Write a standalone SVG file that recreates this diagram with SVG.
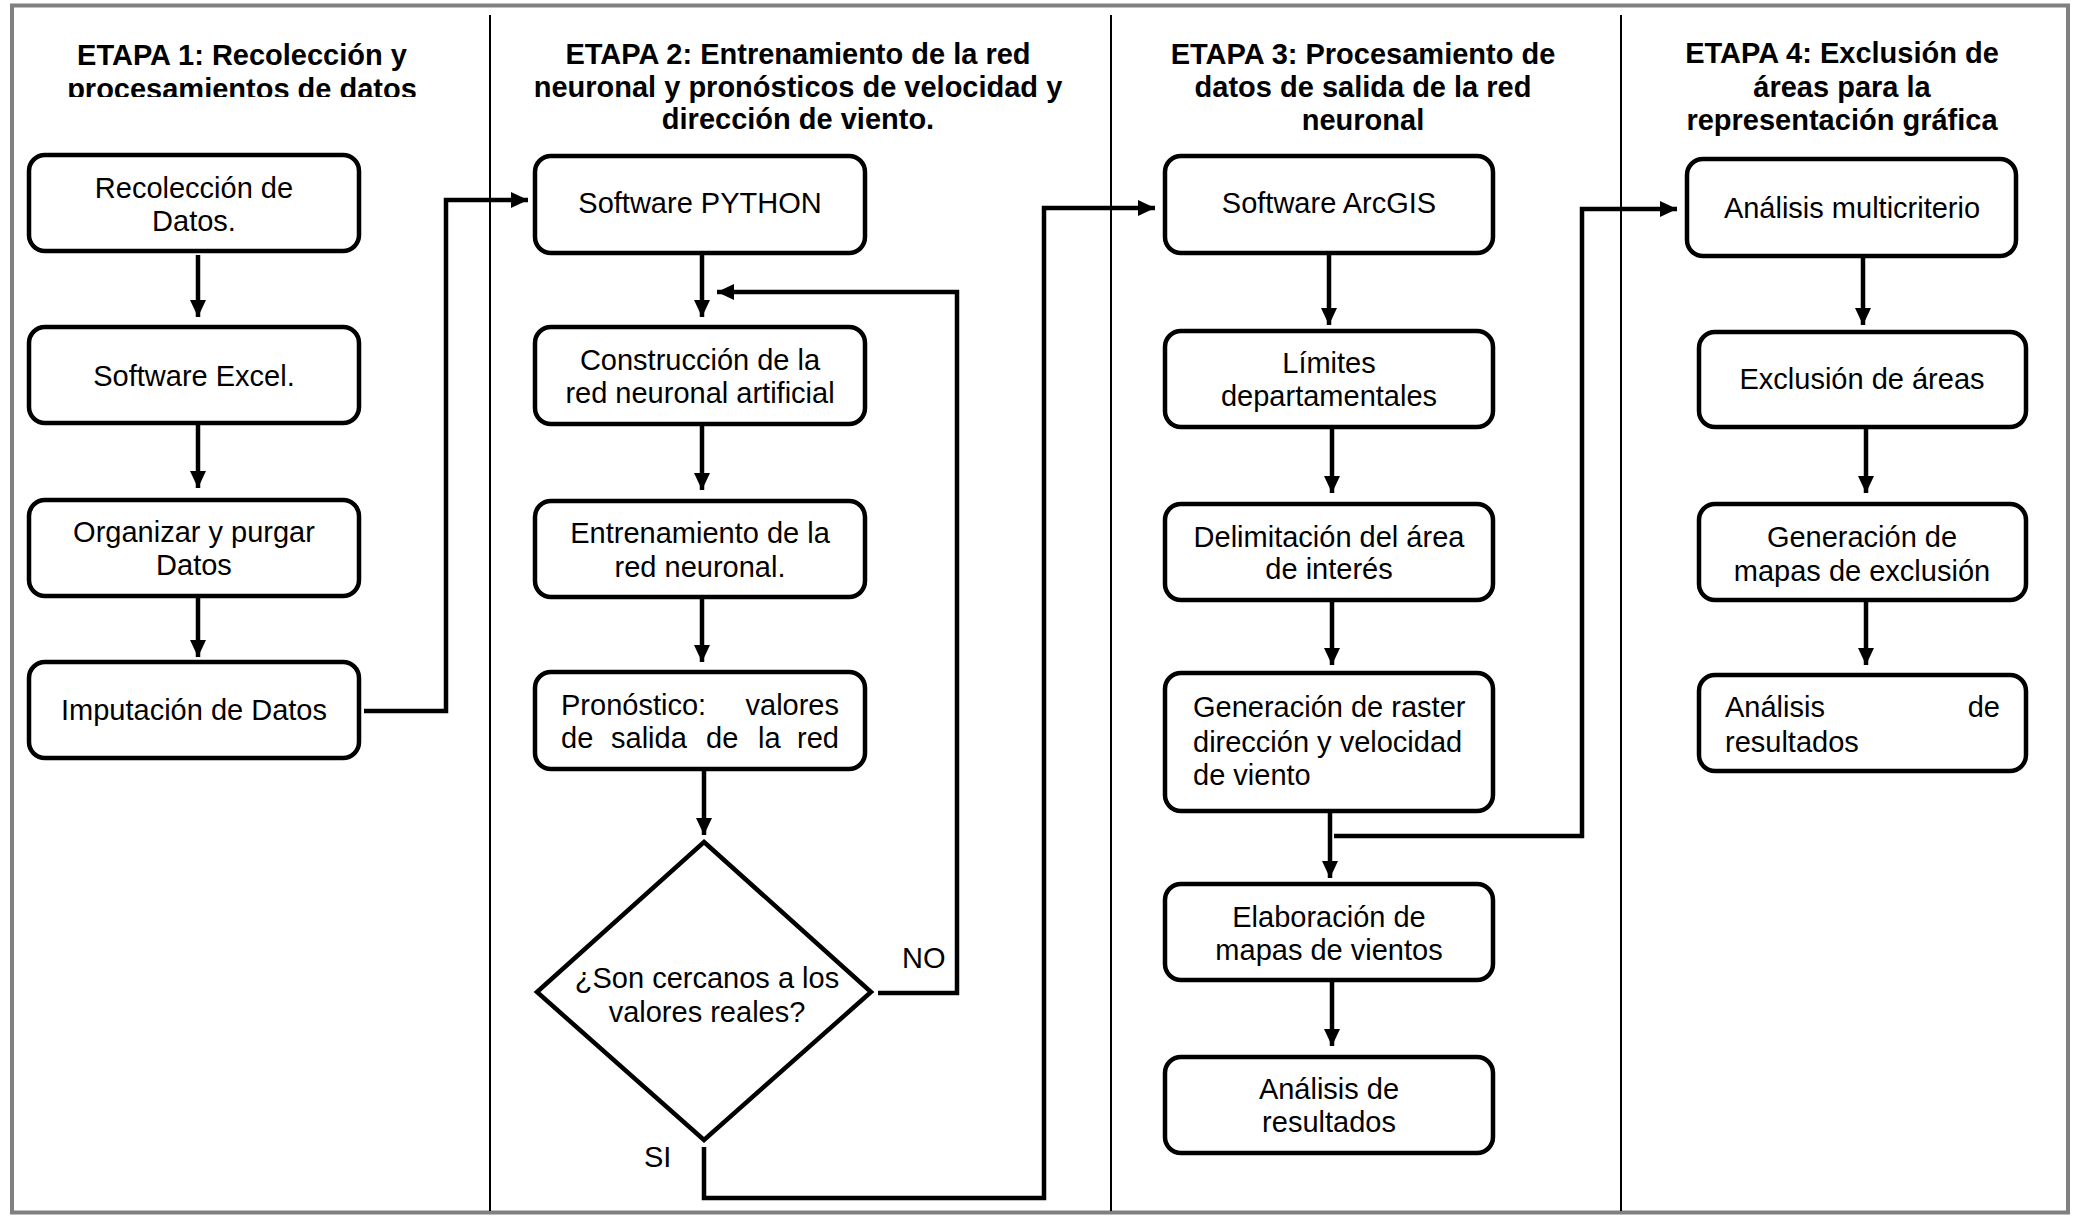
<svg xmlns="http://www.w3.org/2000/svg" width="2076" height="1216" viewBox="0 0 2076 1216">
<style>
.box{fill:#fff;stroke:#000;stroke-width:4.5}
.t{font-family:"Liberation Sans",Arial,sans-serif;font-size:29px;fill:#000}
.c{text-anchor:middle}
.h{font-family:"Liberation Sans",Arial,sans-serif;font-size:29px;font-weight:bold;fill:#000;text-anchor:middle}
.con{fill:none;stroke:#000;stroke-width:4.5}
.arr{fill:none;stroke:#000;stroke-width:4.5;marker-end:url(#ah)}
.div{stroke:#000;stroke-width:2}
</style>
<defs>
<marker id="ah" markerUnits="userSpaceOnUse" markerWidth="18" markerHeight="18" refX="17" refY="8" orient="auto">
<path d="M0,0 L17,8 L0,16 z" fill="#000"/>
</marker>
<clipPath id="clip1"><rect x="0" y="0" width="490" height="97"/></clipPath>
</defs>
<rect x="0" y="0" width="2076" height="1216" fill="#fff"/>
<rect x="12" y="5.5" width="2056" height="1207" fill="none" stroke="#808080" stroke-width="4"/>
<g id="dividers">
<line class="div" x1="490" y1="15" x2="490" y2="1211"/>
<line class="div" x1="1111" y1="15" x2="1111" y2="1211"/>
<line class="div" x1="1621" y1="15" x2="1621" y2="1211"/>
</g>
<g id="titles">
<g clip-path="url(#clip1)">
<text class="h" x="242" y="65">ETAPA 1: Recolección y</text>
<text class="h" x="242" y="98.5">procesamientos de datos</text>
</g>
<text class="h" x="798" y="64">ETAPA 2: Entrenamiento de la red</text>
<text class="h" x="798" y="97">neuronal y pronósticos de velocidad y</text>
<text class="h" x="798" y="129">dirección de viento.</text>
<text class="h" x="1363" y="64">ETAPA 3: Procesamiento de</text>
<text class="h" x="1363" y="97">datos de salida de la red</text>
<text class="h" x="1363" y="130">neuronal</text>
<text class="h" x="1842" y="63">ETAPA 4: Exclusión de</text>
<text class="h" x="1842" y="97">áreas para la</text>
<text class="h" x="1842" y="130">representación gráfica</text>
</g>
<g id="connectors">
<line class="arr" x1="198" y1="255" x2="198" y2="317"/>
<line class="arr" x1="198" y1="425" x2="198" y2="488"/>
<line class="arr" x1="198" y1="598" x2="198" y2="657"/>
<polyline class="arr" points="364,711 446,711 446,200 528,200"/>
<line class="arr" x1="702" y1="255" x2="702" y2="317"/>
<polyline class="arr" points="878,993 957,993 957,292 717,292"/>
<line class="arr" x1="702" y1="426" x2="702" y2="490"/>
<line class="arr" x1="702" y1="599" x2="702" y2="662"/>
<line class="arr" x1="704" y1="771" x2="704" y2="835"/>
<polyline class="arr" points="704,1147 704,1198 1044,1198 1044,208 1155,208"/>
<line class="arr" x1="1329" y1="255" x2="1329" y2="325"/>
<line class="arr" x1="1332" y1="429" x2="1332" y2="493"/>
<line class="arr" x1="1332" y1="602" x2="1332" y2="665"/>
<line class="arr" x1="1330" y1="813" x2="1330" y2="878"/>
<polyline class="arr" points="1334,836 1582,836 1582,209 1677,209"/>
<line class="arr" x1="1332" y1="982" x2="1332" y2="1046"/>
<line class="arr" x1="1863" y1="258" x2="1863" y2="325"/>
<line class="arr" x1="1866" y1="429" x2="1866" y2="493"/>
<line class="arr" x1="1866" y1="602" x2="1866" y2="665"/>
</g>
<g id="n1"><rect class="box" x="29" y="155" width="330" height="96" rx="16"/>
<text class="t c" x="194" y="198">Recolección de</text><text class="t c" x="194" y="231">Datos.</text></g>
<g id="n2"><rect class="box" x="29" y="327" width="330" height="96" rx="16"/>
<text class="t c" x="194" y="386">Software Excel.</text></g>
<g id="n3"><rect class="box" x="29" y="500" width="330" height="96" rx="16"/>
<text class="t c" x="194" y="542">Organizar y purgar</text><text class="t c" x="194" y="575">Datos</text></g>
<g id="n4"><rect class="box" x="29" y="662" width="330" height="96" rx="16"/>
<text class="t c" x="194" y="720">Imputación de Datos</text></g>
<g id="n5"><rect class="box" x="535" y="156" width="330" height="97" rx="16"/>
<text class="t c" x="700" y="213">Software PYTHON</text></g>
<g id="n6"><rect class="box" x="535" y="327" width="330" height="97" rx="16"/>
<text class="t c" x="700" y="370">Construcción de la</text><text class="t c" x="700" y="403">red neuronal artificial</text></g>
<g id="n7"><rect class="box" x="535" y="501" width="330" height="96" rx="16"/>
<text class="t c" x="700" y="543">Entrenamiento de la</text><text class="t c" x="700" y="577">red neuronal.</text></g>
<g id="n8"><rect class="box" x="535" y="672" width="330" height="97" rx="16"/>
<text class="t" x="561" y="715">Pronóstico:</text><text class="t" x="839" y="715" text-anchor="end">valores</text>
<text class="t" x="561" y="748">de</text><text class="t" x="611" y="748">salida</text><text class="t" x="706" y="748">de</text><text class="t" x="758" y="748">la</text><text class="t" x="839" y="748" text-anchor="end">red</text></g>
<g id="n9"><polygon class="box" points="704,842 871,992 704,1140 537,992"/>
<text class="t c" x="707" y="988">¿Son cercanos a los</text><text class="t c" x="707" y="1022">valores reales?</text></g>
<g id="labels">
<text class="t" x="902" y="968" font-size="28">NO</text>
<text class="t" x="644" y="1167" font-size="28">SI</text>
</g>
<g id="n10"><rect class="box" x="1165" y="156" width="328" height="97" rx="16"/>
<text class="t c" x="1329" y="213">Software ArcGIS</text></g>
<g id="n11"><rect class="box" x="1165" y="331" width="328" height="96" rx="16"/>
<text class="t c" x="1329" y="373">Límites</text><text class="t c" x="1329" y="406">departamentales</text></g>
<g id="n12"><rect class="box" x="1165" y="504" width="328" height="96" rx="16"/>
<text class="t c" x="1329" y="547">Delimitación del área</text><text class="t c" x="1329" y="579">de interés</text></g>
<g id="n13"><rect class="box" x="1165" y="673" width="328" height="138" rx="16"/>
<text class="t" x="1193" y="717">Generación de raster</text><text class="t" x="1193" y="752">dirección y velocidad</text><text class="t" x="1193" y="785">de viento</text></g>
<g id="n14"><rect class="box" x="1165" y="884" width="328" height="96" rx="16"/>
<text class="t c" x="1329" y="927">Elaboración de</text><text class="t c" x="1329" y="960">mapas de vientos</text></g>
<g id="n15"><rect class="box" x="1165" y="1057" width="328" height="96" rx="16"/>
<text class="t c" x="1329" y="1099">Análisis de</text><text class="t c" x="1329" y="1132">resultados</text></g>
<g id="n16"><rect class="box" x="1687" y="159" width="329" height="97" rx="16"/>
<text class="t c" x="1852" y="218">Análisis multicriterio</text></g>
<g id="n17"><rect class="box" x="1699" y="332" width="327" height="95" rx="16"/>
<text class="t c" x="1862" y="389">Exclusión de áreas</text></g>
<g id="n18"><rect class="box" x="1699" y="504" width="327" height="96" rx="16"/>
<text class="t c" x="1862" y="547">Generación de</text><text class="t c" x="1862" y="581">mapas de exclusión</text></g>
<g id="n19"><rect class="box" x="1699" y="675" width="327" height="96" rx="16"/>
<text class="t" x="1725" y="717">Análisis</text><text class="t" x="2000" y="717" text-anchor="end">de</text>
<text class="t" x="1725" y="752">resultados</text></g>
</svg>
